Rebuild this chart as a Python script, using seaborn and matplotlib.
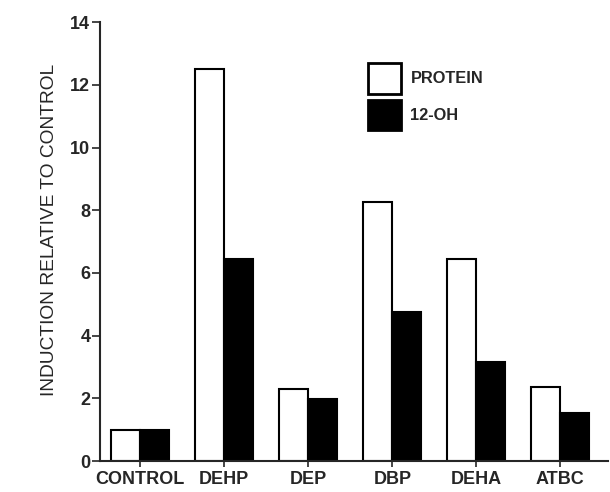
import matplotlib
matplotlib.use("Agg")
import matplotlib.pyplot as plt
import seaborn as sns
import pandas as pd

categories = ["CONTROL", "DEHP", "DEP", "DBP", "DEHA", "ATBC"]
protein = [1.0, 12.5, 2.3, 8.25, 6.45, 2.35]
oh12 = [1.0, 6.45, 1.97, 4.75, 3.15, 1.53]
series = ["PROTEIN", "12-OH"]

df = pd.DataFrame({
    "cat": categories * 2,
    "val": protein + oh12,
    "series": [series[0]] * len(categories) + [series[1]] * len(categories),
})

sns.set_style("ticks")
plt.rcParams["font.family"] = ["Liberation Sans", "DejaVu Sans"]

fig = plt.figure(figsize=(6.1, 4.92), dpi=100)
ax = fig.add_axes([0.164, 0.063, 0.833, 0.892])

sns.barplot(data=df, x="cat", y="val", hue="series", order=categories,
            hue_order=series, palette={"PROTEIN": "white", "12-OH": "black"},
            edgecolor="black", linewidth=1.5, width=0.69, ax=ax,
            errorbar=None, saturation=1)

ax.set_ylim(0, 14)
ax.set_xlim(-0.48, 5.57)
ax.set_yticks([0, 2, 4, 6, 8, 10, 12, 14])
ax.set_yticklabels(["0", "2", "4", "6", "8", "10", "12", "14"])
ax.tick_params(axis="y", length=6, width=1.2, labelsize=13, pad=1)
ax.tick_params(axis="x", length=4, width=1.2, labelsize=13, pad=3)
for lab in ax.get_xticklabels() + ax.get_yticklabels():
    lab.set_fontweight("bold")
ax.set_xlabel("")
ax.set_ylabel("INDUCTION RELATIVE TO CONTROL", fontsize=13.8)
ax.yaxis.set_label_coords(-0.083, 0.526)
for s in ["top", "right"]:
    ax.spines[s].set_visible(False)
ax.spines["left"].set_linewidth(1.5)
ax.spines["bottom"].set_linewidth(1.5)

leg = ax.legend(loc="upper left", bbox_to_anchor=(0.527, 0.906), frameon=False,
                prop={"size": 11.8, "weight": "bold"},
                handlelength=2.0, handleheight=2.45,
                handletextpad=0.6, labelspacing=0.4, borderpad=0,
                borderaxespad=0)
for h in leg.legend_handles:
    h.set_edgecolor("black")
    h.set_linewidth(2)

fig.savefig("out.png", dpi=100)
